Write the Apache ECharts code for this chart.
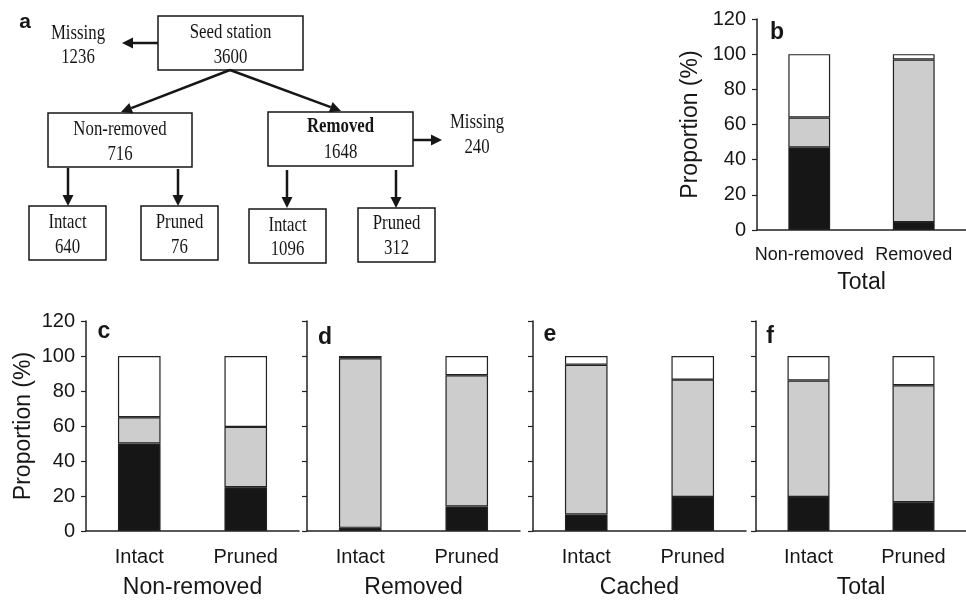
<!DOCTYPE html>
<html><head><meta charset="utf-8">
<script src="https://cdn.jsdelivr.net/npm/echarts@6/dist/echarts.min.js"></script>
<style>html,body{margin:0;padding:0;background:#fff}#c{width:966px;height:600px}</style>
</head><body><div id="c"></div>
<script>
// ---- Flow diagram (panel a) ----
const flowNames  = ['Seed station', 'Non-removed', 'Removed', 'Intact', 'Pruned', 'Intact', 'Pruned', 'Missing', 'Missing'];
const flowCounts = [3600, 716, 1648, 640, 76, 1096, 312, 1236, 240];

// ---- Bar panels (b-f): segment proportions (%) ----
const catsB  = ['Non-removed', 'Removed'];
const blackB = [47, 4.5];
const grayB  = [17, 92.5];
const whiteB = [36, 3];

const catsIP = ['Intact', 'Pruned'];
const blackC = [50, 25];
const grayC  = [15, 34.5];
const whiteC = [35, 40.5];

const blackD = [1.8, 14];
const grayD  = [96.9, 75];
const whiteD = [1.3, 11];

const blackE = [9.5, 19.5];
const grayE  = [85.5, 67];
const whiteE = [5, 13.5];

const blackF = [19.5, 16.5];
const grayF  = [66.5, 66.8];
const whiteF = [14, 16.7];

const panelLetters = ['b', 'c', 'd', 'e', 'f'];
const groupTitles  = ['Total', 'Non-removed', 'Removed', 'Cached', 'Total'];
const yName = 'Proportion (%)';
const yMin = 0, yMax = 120, yStep = 20;

// ---- layout (not data) ----
const panelCats   = [catsB, catsIP, catsIP, catsIP, catsIP];
const panelBlack  = [blackB, blackC, blackD, blackE, blackF];
const panelGray   = [grayB, grayC, grayD, grayE, grayF];
const panelWhite  = [whiteB, whiteC, whiteD, whiteE, whiteF];
const gridBoxes = [
  {left: 757, top: 19,  width: 212, height: 211},
  {left: 86,  top: 321, width: 213, height: 211},
  {left: 307, top: 321, width: 213, height: 211},
  {left: 533, top: 321, width: 213, height: 211},
  {left: 756, top: 321, width: 213, height: 211}
];
const letterPos = [[777, 33], [104, 332], [325, 338], [550, 335], [770, 337]];
const segColors = ['#161616', '#cdcdcd', '#ffffff'];
const sans = '"Liberation Sans", Arial, sans-serif';
const serif = '"Liberation Serif", "Times New Roman", serif';
const ink = '#161616';

const grid = [], xAxis = [], yAxis = [], series = [];
gridBoxes.forEach((g, i) => {
  grid.push({left: g.left, top: g.top, width: g.width, height: g.height, containLabel: false});
  const showLbl = i < 2;
  xAxis.push({
    type: 'category', gridIndex: i, data: panelCats[i],
    axisLine: {lineStyle: {color: '#222', width: 1.5}},
    axisTick: {alignWithLabel: true, length: 4, lineStyle: {color: '#222', width: 1.5}},
    axisLabel: {color: ink, fontSize: i === 0 ? 18 : 20, fontFamily: sans, margin: 16, interval: 0, hideOverlap: false},
    name: groupTitles[i], nameLocation: 'middle', nameGap: i === 0 ? 41 : 45,
    nameTextStyle: {color: ink, fontSize: 23, fontFamily: sans}
  });
  yAxis.push({
    type: 'value', gridIndex: i, min: yMin, max: yMax, interval: yStep,
    splitLine: {show: false},
    axisLine: {show: true, lineStyle: {color: '#222', width: 1.5}},
    axisTick: {show: true, length: 5, lineStyle: {color: '#222', width: 1.2}},
    axisLabel: {show: showLbl, color: ink, fontSize: 20, fontFamily: sans, margin: 11},
    name: showLbl ? yName : '', nameLocation: 'middle', nameGap: i === 0 ? 55 : 51,
    nameTextStyle: {color: ink, fontSize: 23, fontFamily: sans}
  });
  [panelBlack[i], panelGray[i], panelWhite[i]].forEach((vals, k) => {
    series.push({
      type: 'bar', xAxisIndex: i, yAxisIndex: i, stack: 'p' + i,
      data: vals, barWidth: '40%',
      itemStyle: {color: segColors[k], borderColor: '#222', borderWidth: 1.2},
      emphasis: {disabled: true}
    });
  });
});

// ---- flow diagram graphics ----
const boxes = [ // [x, y, w, h, line1 y, line2 y] for flow nodes 0..6
  [158, 16, 145, 54, 32, 57],
  [48, 113, 144, 54, 129, 154],
  [268, 112, 145, 54, 127, 152],
  [29, 206, 77, 54, 222, 247],
  [141, 206, 77, 54, 222, 247],
  [249, 209, 77, 54, 225, 249],
  [358, 208, 77, 54, 223, 248]
];
const looseLabels = [[78, 33, 57], [477, 122, 147]]; // Missing labels (nodes 7, 8)
const arrows = [
  [158, 43, 122, 43], [230, 70, 121, 112], [230, 70, 341, 111], [413, 140, 442, 140],
  [68, 168, 68, 206], [178, 169, 178, 206], [287, 170, 287, 208], [396, 170, 396, 208]
];
const gfx = [];
function txt(x, y, s, bold) {
  return {type: 'text', x: x, y: y, scaleX: 0.8, z: 10,
    style: {text: s, font: (bold ? 'bold ' : '') + '21px ' + serif, fill: ink,
      align: 'center', verticalAlign: 'middle', textAlign: 'center', textVerticalAlign: 'middle'}};
}
boxes.forEach((b, i) => {
  gfx.push({type: 'rect', shape: {x: b[0], y: b[1], width: b[2], height: b[3]},
    style: {fill: '#fff', stroke: ink, lineWidth: 1.5}, z: 5});
  const cx = b[0] + b[2] / 2;
  gfx.push(txt(cx, b[4], flowNames[i], i === 2));
  gfx.push(txt(cx, b[5], String(flowCounts[i]), false));
});
looseLabels.forEach((l, j) => {
  gfx.push(txt(l[0], l[1], flowNames[7 + j], false));
  gfx.push(txt(l[0], l[2], String(flowCounts[7 + j]), false));
});
arrows.forEach(a => {
  const [x1, y1, x2, y2] = a;
  const dx = x2 - x1, dy = y2 - y1, L = Math.hypot(dx, dy);
  const ux = dx / L, uy = dy / L, hl = 11, hw = 5.5;
  const bx = x2 - ux * hl, by = y2 - uy * hl;
  gfx.push({type: 'line', shape: {x1: x1, y1: y1, x2: bx, y2: by},
    style: {stroke: ink, lineWidth: 2.5}, z: 6});
  gfx.push({type: 'polygon', shape: {points: [[x2, y2], [bx - uy * hw, by + ux * hw], [bx + uy * hw, by - ux * hw]]},
    style: {fill: ink}, z: 6});
});
gfx.push({type: 'text', x: 25, y: 22, z: 10,
  style: {text: 'a', font: 'bold 21px ' + sans, fill: ink, align: 'center', verticalAlign: 'middle', textAlign: 'center', textVerticalAlign: 'middle'}});
panelLetters.forEach((t, i) => {
  gfx.push({type: 'text', x: letterPos[i][0], y: letterPos[i][1], z: 10,
    style: {text: t, font: 'bold 23px ' + sans, fill: ink, align: 'center', verticalAlign: 'middle', textAlign: 'center', textVerticalAlign: 'middle'}});
});

const chart = echarts.init(document.getElementById('c'), null, {renderer: 'canvas'});
chart.setOption({
  animation: false,
  backgroundColor: '#fff',
  grid: grid, xAxis: xAxis, yAxis: yAxis, series: series,
  graphic: {elements: gfx}
});
</script>
</body></html>
